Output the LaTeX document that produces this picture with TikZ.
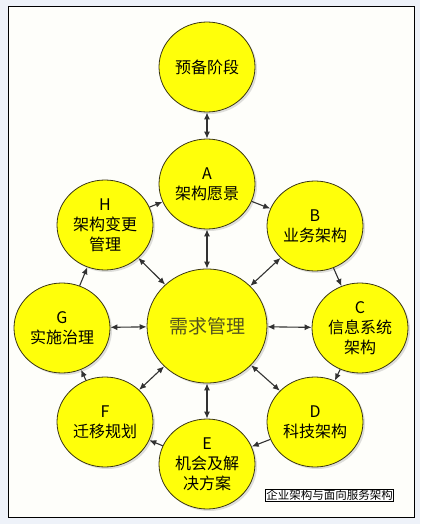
\documentclass[tikz,border=0pt]{standalone}
\usepackage{fontspec}
\setmainfont{Noto Sans CJK SC}
\usepackage{tikz}
\usetikzlibrary{arrows.meta,shapes.geometric,shadows}
\definecolor{bgblue}{RGB}{238,242,249}
\definecolor{paper}{RGB}{254,254,250}
\definecolor{ball}{RGB}{255,255,10}
\definecolor{rim}{RGB}{60,55,20}
\definecolor{olivetext}{RGB}{85,85,30}
\definecolor{arrowgray}{RGB}{50,50,50}
\tikzset{%
  phase/.style = {ellipse,draw=rim,fill=ball,line width=0.8pt,
        minimum width=96pt,minimum height=90pt,inner sep=0pt,
        align=center,font=\fontsize{16}{20}\selectfont,
        drop shadow={shadow xshift=2pt,shadow yshift=-2pt,opacity=0.25}},
  hub/.style = {phase,minimum width=120pt,minimum height=114pt,
        text=olivetext,font=\fontsize{19}{22}\selectfont},
  twoway/.style = {{Latex[length=7pt,width=6pt]}-{Latex[length=7pt,width=6pt]},
        draw=arrowgray,line width=1.1pt},
  oneway/.style = {-{Latex[length=7pt,width=6pt]},
        draw=arrowgray,line width=1.1pt}
}

\begin{document}
\begin{tikzpicture}[x=1pt,y=-1pt]
        % frame
        \fill[bgblue] (0,0) rectangle (420,524);
        \useasboundingbox (0,0) rectangle (420,524);
        \draw[fill=paper,line width=1pt] (8.5,7) rectangle (414,517);
        % phases
        \node[phase] (prep) at (207,67) {预备阶段};
        \node[phase] (a) at (207,184) {A\\架构愿景};
        \node[phase] (b) at (315,226) {B\\业务架构};
        \node[phase] (c) at (360,328) {C\\信息系统\\架构};
        \node[phase] (d) at (315,422) {D\\科技架构};
        \node[phase] (e) at (207,464) {E\\机会及解\\决方案};
        \node[phase] (f) at (105,422) {F\\迁移规划};
        \node[phase] (g) at (62,328) {G\\实施治理};
        \node[phase] (h) at (105,225) {H\\架构变更\\管理};
        \node[hub] (req) at (207,326) {需求管理};
        % cycle
        \draw [oneway] (a) to (b);
        \draw [oneway] (b) to (c);
        \draw [oneway] (c) to (d);
        \draw [oneway] (d) to (e);
        \draw [oneway] (e) to (f);
        \draw [oneway] (f) to (g);
        \draw [oneway] (g) to (h);
        \draw [oneway] (h) to (a);
        % links to requirements
        \draw [twoway] (prep) to (a);
        \foreach \p in {a,b,c,d,e,f,g,h}
            \draw [twoway] (\p) to (req);
        % caption
        \node[draw=black,fill=white,line width=0.8pt,inner sep=1pt,
              font=\fontsize{11.5}{13}\selectfont] (cap) at (329.5,495.5) {企业架构与面向服务架构};
    \end{tikzpicture}
\end{document}
